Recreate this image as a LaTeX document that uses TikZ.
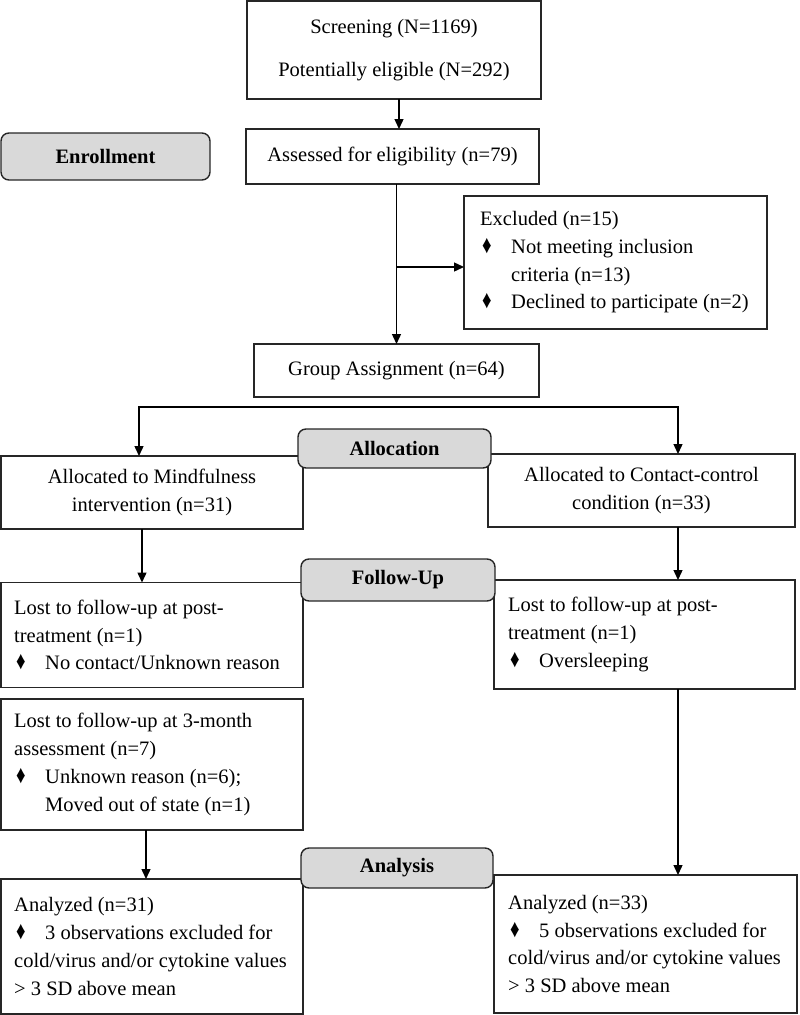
\documentclass[tikz,border=0pt]{standalone}
\usepackage{fontspec}
\usepackage{graphicx}
\setmainfont{Liberation Serif}
\usetikzlibrary{arrows.meta}
\definecolor{labgray}{HTML}{D9D9D9}
\definecolor{edge}{HTML}{262626}
\newcommand\dmd{\makebox[31pt][l]{\hspace{2pt}\raisebox{0pt}{\scalebox{0.85}[1.15]{\fontsize{22}{22}\selectfont ♦}}}}
\begin{document}
\begin{tikzpicture}[x=1pt,y=-1pt,
  font=\fontsize{20.5}{27.7}\selectfont,
  box/.style={draw=edge, line width=1.4pt, rectangle, inner sep=0pt, outer sep=0pt},
  lab/.style={draw=edge, line width=1.4pt, fill=labgray, rounded corners=8pt, inner sep=0pt, outer sep=0pt, font=\fontsize{20.5}{27.7}\selectfont\bfseries},
  txt/.style={align=left, inner sep=0pt, anchor=west},
  tip/.tip={Triangle[length=10pt,width=9pt]},
  arr/.style={draw=black, line width=1.4pt, -tip},
  ln/.style={draw=black, line width=1.4pt}]
\useasboundingbox (0,0) rectangle (800,1015);

% boxes
\node[box, minimum width=294pt, minimum height=98pt, align=center] (scr) at (394,50)
  {Screening (N=1169)\\[16pt]Potentially eligible (N=292)};
\node[box, minimum width=293pt, minimum height=55pt, align=center] (ass) at (392.5,156.5)
  {Assessed for eligibility (n=79)};
\node[box, minimum width=303pt, minimum height=133pt] (exc) at (615.5,262.5) {};
\node[txt] (exct) at ([xshift=16pt]exc.west)
  {Excluded (n=15)\\\dmd Not meeting inclusion\\\hspace*{31pt}criteria (n=13)\\\dmd Declined to participate (n=2)};
\node[box, minimum width=285pt, minimum height=53pt, align=center] (grp) at (396.5,370.5)
  {Group Assignment (n=64)};
\node[box, minimum width=302pt, minimum height=73pt, align=center] (allocL) at (152,492.5)
  {Allocated to Mindfulness\\intervention (n=31)};
\node[box, minimum width=307pt, minimum height=73pt, align=center] (allocR) at (641.5,490.5)
  {Allocated to Contact-control\\condition (n=33)};
\node[box, minimum width=302pt, minimum height=105pt] (lostL) at (152,635) {};
\node[txt] (lostLt) at ([xshift=13pt]lostL.west)
  {Lost to follow-up at post-\\treatment (n=1)\\\dmd No contact/Unknown reason};
\node[box, minimum width=301pt, minimum height=109pt] (lostR) at (644.5,634.5) {};
\node[txt] (lostRt) at ([xshift=14pt]lostR.west)
  {Lost to follow-up at post-\\treatment (n=1)\\\dmd Oversleeping};
\node[box, minimum width=302pt, minimum height=131pt] (lost3) at (152,764.5) {};
\node[txt] (lost3t) at ([xshift=13pt]lost3.west)
  {Lost to follow-up at 3-month\\assessment (n=7)\\\dmd Unknown reason (n=6);\\\hspace*{31pt}Moved out of state (n=1)};
\node[box, minimum width=302pt, minimum height=135pt] (anL) at (152,946.5) {};
\node[txt] (anLt) at ([xshift=13pt]anL.west)
  {Analyzed (n=31)\\\dmd 3 observations excluded for\\cold/virus and/or cytokine values\\> 3 SD above mean};
\node[box, minimum width=303pt, minimum height=138pt] (anR) at (645.5,944) {};
\node[txt] (anRt) at ([xshift=14pt]anR.west)
  {Analyzed (n=33)\\\dmd 5 observations excluded for\\cold/virus and/or cytokine values\\> 3 SD above mean};

% connectors
\draw[arr] ([xshift=5pt]scr.south) -- ([xshift=5pt]scr.south |- ass.north);
\draw[arr] (grp.north |- ass.south) -- (grp.north);
\draw[arr] (grp.north |- exc.west) ++(0,4.5) coordinate (br) -- (br -| exc.west);
\coordinate (spL) at (139,407);
\coordinate (spR) at (678,407);
\draw[ln, tip-tip] (spL |- allocL.north) -- (spL) -- (spR) -- (spR |- allocR.north);
\draw[arr] ([xshift=-10pt]allocL.south) -- ([xshift=-10pt]allocL.south |- lostL.north);
\draw[arr] ([xshift=36.5pt]allocR.south) -- ([xshift=36.5pt]allocR.south |- lostR.north);
\draw[arr] ([xshift=-6pt]lost3.south) -- ([xshift=-6pt]lost3.south |- anL.north);
\draw[arr] ([xshift=33.5pt]lostR.south) -- ([xshift=33.5pt]lostR.south |- anR.north);

% stage labels
\node[lab, minimum width=209pt, minimum height=47pt] (enr) at (105.5,156.5) {Enrollment};
\node[lab, minimum width=193pt, minimum height=39pt] (allocLab) at (394.5,448.5) {Allocation};
\node[lab, minimum width=194pt, minimum height=42pt] (fuLab) at (398,580) {Follow-Up};
\node[lab, minimum width=192pt, minimum height=40pt] (anLab) at (397,868) {Analysis};
\end{tikzpicture}
\end{document}
